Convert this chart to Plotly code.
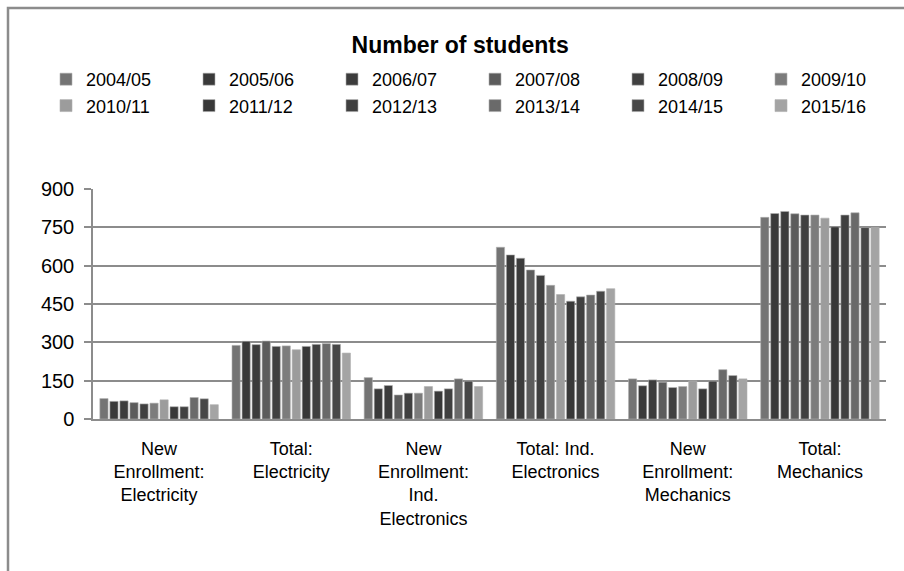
import plotly.graph_objects as go

categories = [
    "New<br>Enrollment:<br>Electricity",
    "Total:<br>Electricity",
    "New<br>Enrollment:<br>Ind.<br>Electronics",
    "Total: Ind.<br>Electronics",
    "New<br>Enrollment:<br>Mechanics",
    "Total:<br>Mechanics",
]

years = ["2004/05", "2005/06", "2006/07", "2007/08", "2008/09", "2009/10",
         "2010/11", "2011/12", "2012/13", "2013/14", "2014/15", "2015/16"]

# values per category, one entry per academic year
new_electricity = [80, 69, 71, 64, 59, 62, 75, 48, 48, 84, 79, 56]
total_electricity = [288, 304, 291, 305, 284, 286, 271, 284, 292, 295, 292, 258]
new_ind_electronics = [162, 118, 131, 94, 101, 101, 127, 109, 118, 157, 148, 127]
total_ind_electronics = [672, 642, 629, 583, 562, 523, 487, 461, 478, 485, 500, 510]
new_mechanics = [157, 130, 153, 144, 123, 127, 149, 118, 148, 193, 170, 157]
total_mechanics = [789, 804, 812, 803, 798, 798, 786, 752, 798, 807, 749, 749]

series_by_category = [new_electricity, total_electricity, new_ind_electronics,
                      total_ind_electronics, new_mechanics, total_mechanics]

colors = ["#747474", "#3a3a3a", "#3c3c3c", "#5c5c5c", "#404040", "#7c7c7c",
          "#9c9c9c", "#383838", "#404040", "#6a6a6a", "#474747", "#a4a4a4"]

FONT = "Liberation Sans Narrow, Arial Narrow, Liberation Sans, Arial, sans-serif"

fig = go.Figure()
for i, yr in enumerate(years):
    fig.add_trace(go.Bar(
        name=yr,
        x=categories,
        y=[s[i] for s in series_by_category],
        marker=dict(color=colors[i], line=dict(color="#b0b0b0", width=0.6)),
    ))

W, H = 904, 571
ml, mr, mt, mb = 93, 18, 189, 152
pw, ph = W - ml - mr, H - mt - mb

def px_x(x):
    return (x - ml) / pw

def px_y(y):
    return (H - mb - y) / ph

fig.update_layout(
    width=W, height=H,
    margin=dict(l=ml, r=mr, t=mt, b=mb, pad=0),
    paper_bgcolor="white", plot_bgcolor="white",
    barmode="group", bargap=0.09, bargroupgap=0.18,
    font=dict(family=FONT, size=18, color="#000000"),
    title=dict(text="<b>Number of students</b>", x=0.509, xanchor="center",
               y=1 - 45 / H, yanchor="middle",
               font=dict(family=FONT, size=23, color="#000000")),
    legend=dict(orientation="h", x=px_x(65), xanchor="left",
                y=px_y(61), yanchor="top",
                entrywidth=98, entrywidthmode="pixels",
                itemwidth=30, tracegroupgap=0,
                font=dict(family=FONT, size=18, color="#000000"),
                bgcolor="rgba(0,0,0,0)"),
    showlegend=True,
    shapes=[dict(type="rect", xref="paper", yref="paper",
                 x0=px_x(8), y0=px_y(H + 20), x1=px_x(W + 20), y1=px_y(8),
                 line=dict(color="#8c8c8c", width=2.5), layer="below")],
)

fig.update_yaxes(range=[0, 900], tickvals=[0, 150, 300, 450, 600, 750, 900],
                 showgrid=True, gridcolor="#8c8c8c", gridwidth=1.5,
                 showline=True, linecolor="#8c8c8c", linewidth=1.5,
                 ticks="outside", ticklen=7, tickcolor="#8c8c8c", tickwidth=1.5,
                 zeroline=False, tickfont=dict(family=FONT, size=20),
                 ticklabelstandoff=6)
fig.update_xaxes(showline=True, linecolor="#8c8c8c", linewidth=2,
                 ticks="", showgrid=False, ticklabelstandoff=12,
                 tickfont=dict(family=FONT, size=18), tickangle=0)

fig.write_html("out.html")
